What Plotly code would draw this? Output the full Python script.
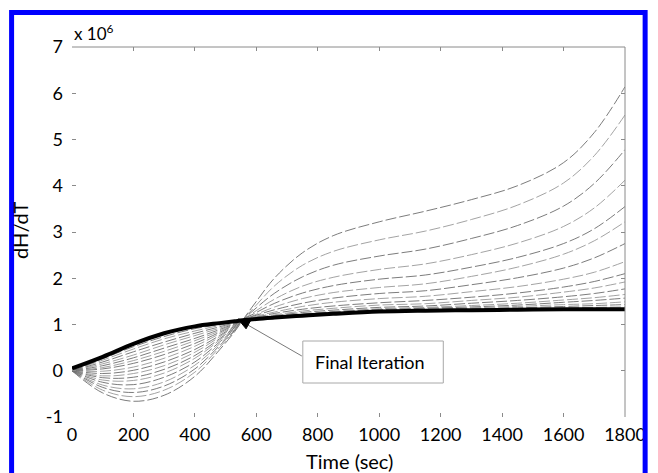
import plotly.graph_objects as go

# Time grid (sec)
time_s = [0, 100, 200, 300, 400, 480, 530, 555, 600, 660, 750, 850, 1000, 1150, 1300, 1450, 1600, 1700, 1800]

# dH/dT in units of 1e6, iterations (first -> last before final)
iter_01 = [0.00, -0.48, -0.66, -0.53, -0.12, 0.45, 0.85, 1.09, 1.50, 2.01, 2.55, 2.92, 3.22, 3.45, 3.70, 4.00, 4.50, 5.15, 6.14]
iter_02 = [0.00, -0.42, -0.56, -0.42, -0.03, 0.50, 0.87, 1.09, 1.42, 1.84, 2.28, 2.58, 2.83, 3.02, 3.27, 3.58, 4.06, 4.65, 5.53]
iter_03 = [0.00, -0.36, -0.47, -0.33, 0.04, 0.54, 0.88, 1.09, 1.36, 1.68, 2.03, 2.28, 2.48, 2.63, 2.86, 3.14, 3.56, 4.05, 4.78]
iter_04 = [0.00, -0.31, -0.39, -0.24, 0.12, 0.58, 0.90, 1.09, 1.30, 1.55, 1.83, 2.02, 2.19, 2.31, 2.51, 2.76, 3.12, 3.52, 4.12]
iter_05 = [0.00, -0.25, -0.30, -0.14, 0.19, 0.62, 0.91, 1.09, 1.26, 1.46, 1.68, 1.84, 1.98, 2.07, 2.24, 2.45, 2.75, 3.07, 3.55]
iter_06 = [0.00, -0.20, -0.21, -0.05, 0.27, 0.66, 0.93, 1.09, 1.22, 1.38, 1.56, 1.69, 1.80, 1.88, 2.04, 2.24, 2.52, 2.81, 3.22]
iter_07 = [0.00, -0.15, -0.14, 0.03, 0.33, 0.69, 0.94, 1.09, 1.20, 1.32, 1.46, 1.57, 1.67, 1.73, 1.86, 2.01, 2.22, 2.44, 2.75]
iter_08 = [0.00, -0.11, -0.06, 0.11, 0.40, 0.73, 0.96, 1.09, 1.18, 1.27, 1.39, 1.48, 1.56, 1.61, 1.71, 1.82, 1.98, 2.13, 2.36]
iter_09 = [0.00, -0.06, 0.01, 0.19, 0.46, 0.76, 0.97, 1.09, 1.16, 1.24, 1.33, 1.40, 1.47, 1.52, 1.59, 1.68, 1.81, 1.93, 2.10]
iter_10 = [0.00, -0.01, 0.08, 0.27, 0.53, 0.80, 0.98, 1.09, 1.15, 1.21, 1.29, 1.35, 1.42, 1.45, 1.52, 1.59, 1.70, 1.79, 1.92]
iter_11 = [0.00, 0.04, 0.16, 0.35, 0.59, 0.83, 1.00, 1.09, 1.14, 1.19, 1.26, 1.31, 1.37, 1.40, 1.46, 1.52, 1.60, 1.67, 1.77]
iter_12 = [0.00, 0.07, 0.22, 0.42, 0.65, 0.86, 1.01, 1.09, 1.13, 1.18, 1.23, 1.28, 1.34, 1.37, 1.41, 1.46, 1.53, 1.58, 1.65]
iter_13 = [0.00, 0.11, 0.28, 0.49, 0.70, 0.89, 1.02, 1.09, 1.13, 1.17, 1.22, 1.27, 1.32, 1.35, 1.38, 1.42, 1.48, 1.52, 1.57]
iter_14 = [0.00, 0.15, 0.34, 0.56, 0.76, 0.92, 1.03, 1.09, 1.12, 1.16, 1.21, 1.25, 1.31, 1.33, 1.36, 1.39, 1.43, 1.45, 1.49]
iter_15 = [0.00, 0.19, 0.41, 0.62, 0.81, 0.95, 1.04, 1.09, 1.12, 1.16, 1.20, 1.24, 1.30, 1.32, 1.34, 1.36, 1.39, 1.41, 1.43]
iter_16 = [0.00, 0.23, 0.47, 0.69, 0.86, 0.98, 1.05, 1.09, 1.12, 1.15, 1.20, 1.24, 1.29, 1.31, 1.32, 1.34, 1.36, 1.37, 1.38]
iter_17 = [0.00, 0.26, 0.52, 0.74, 0.91, 1.00, 1.06, 1.09, 1.12, 1.15, 1.19, 1.23, 1.28, 1.30, 1.31, 1.33, 1.34, 1.35, 1.35]
final_iter = [0.05, 0.30, 0.58, 0.81, 0.96, 1.03, 1.07, 1.09, 1.12, 1.15, 1.19, 1.23, 1.28, 1.30, 1.31, 1.32, 1.33, 1.33, 1.33]

iterations = [iter_01, iter_02, iter_03, iter_04, iter_05, iter_06, iter_07, iter_08, iter_09,
              iter_10, iter_11, iter_12, iter_13, iter_14, iter_15, iter_16, iter_17]

x_ticks = [0, 200, 400, 600, 800, 1000, 1200, 1400, 1600, 1800]
y_ticks = [-1, 0, 1, 2, 3, 4, 5, 6, 7]

FONT = "Lato, 'Open Sans', sans-serif"

fig = go.Figure()
greys = ["#5a5a5a", "#8c8c8c"]
for i, ys in enumerate(iterations):
    fig.add_trace(go.Scatter(
        x=time_s, y=ys, mode="lines", line_shape="spline",
        line=dict(color=greys[i % 2], width=0.8, dash="11px,3px"),
        hoverinfo="skip", showlegend=False))
fig.add_trace(go.Scatter(
    x=time_s, y=final_iter, mode="lines", line_shape="spline",
    line=dict(color="black", width=4), showlegend=False))

# pixel -> paper helpers (plot area 72..635 x, 47..417 y)
L, R, TOP, BOT = 72, 635, 47, 417
def px(xp):
    return (xp - L) / (R - L)
def py(yp):
    return (BOT - yp) / (BOT - TOP)

# arrow (pixel geometry)
tip = (241, 319)
tail = (306, 356)
b1 = (253.6, 321.0)
b2 = (249.2, 328.8)
head_path = "M {},{} L {},{} L {},{} Z".format(px(tip[0]), py(tip[1]), px(b1[0]), py(b1[1]), px(b2[0]), py(b2[1]))

shapes = [
    # top and right axis lines
    dict(type="line", xref="paper", yref="paper", x0=0, x1=1, y0=1, y1=1, line=dict(color="#8a8a8a", width=1)),
    dict(type="line", xref="paper", yref="paper", x0=1, x1=1, y0=0, y1=1, line=dict(color="#8a8a8a", width=1)),
    # annotation box
    dict(type="rect", xref="paper", yref="paper", x0=px(307), x1=px(450), y0=py(383), y1=py(341),
         line=dict(color="#a8a8a8", width=1), fillcolor="rgba(0,0,0,0)"),
    # arrow line and head
    dict(type="line", xref="paper", yref="paper", x0=px(tail[0]), y0=py(tail[1]), x1=px(251), y1=py(325),
         line=dict(color="#7a7a7a", width=1)),
    dict(type="path", xref="paper", yref="paper", path=head_path, fillcolor="black",
         line=dict(color="black", width=1)),
    # blue frame
    dict(type="rect", xref="paper", yref="paper", x0=px(10.5), x1=px(655.5), y0=py(485), y1=py(12.5),
         line=dict(color="#0000FF", width=5), fillcolor="rgba(0,0,0,0)"),
]

annotations = [
    dict(x=px(317), y=py(362), xref="paper", yref="paper", text="Final Iteration", showarrow=False,
         xanchor="left", yanchor="middle", font=dict(family=FONT, size=18, color="black")),
    dict(x=0, y=py(33), xref="paper", yref="paper", text="x 10<sup>6</sup>", showarrow=False,
         xanchor="left", yanchor="middle", font=dict(family=FONT, size=17, color="black")),
    dict(x=px(19), y=py(230), xref="paper", yref="paper", text="dH/dT", showarrow=False, textangle=-90,
         xanchor="center", yanchor="middle", font=dict(family=FONT, size=20, color="black")),
    dict(x=px(355), y=py(461), xref="paper", yref="paper", text="Time (sec)", showarrow=False,
         xanchor="center", yanchor="middle", font=dict(family=FONT, size=20, color="black")),
]

fig.update_layout(
    width=658, height=473,
    margin=dict(l=L, r=658 - R, t=TOP, b=473 - BOT),
    paper_bgcolor="white", plot_bgcolor="white",
    font=dict(family=FONT, size=18, color="black"),
    shapes=shapes, annotations=annotations,
    xaxis=dict(range=[0, 1800], tickvals=x_ticks, ticktext=[str(v) for v in x_ticks],
               showgrid=False, zeroline=False, showline=False, mirror="ticks",
               ticks="inside", ticklen=4, tickcolor="#8a8a8a", tickfont=dict(size=18),
               ticklabelstandoff=5),
    yaxis=dict(range=[-1, 7], tickvals=y_ticks, ticktext=[str(v) for v in y_ticks],
               showgrid=False, zeroline=False, showline=False, mirror="ticks",
               ticks="inside", ticklen=4, tickcolor="#8a8a8a", tickfont=dict(size=18),
               ticklabelstandoff=8),
)

fig.write_html("out.html")
